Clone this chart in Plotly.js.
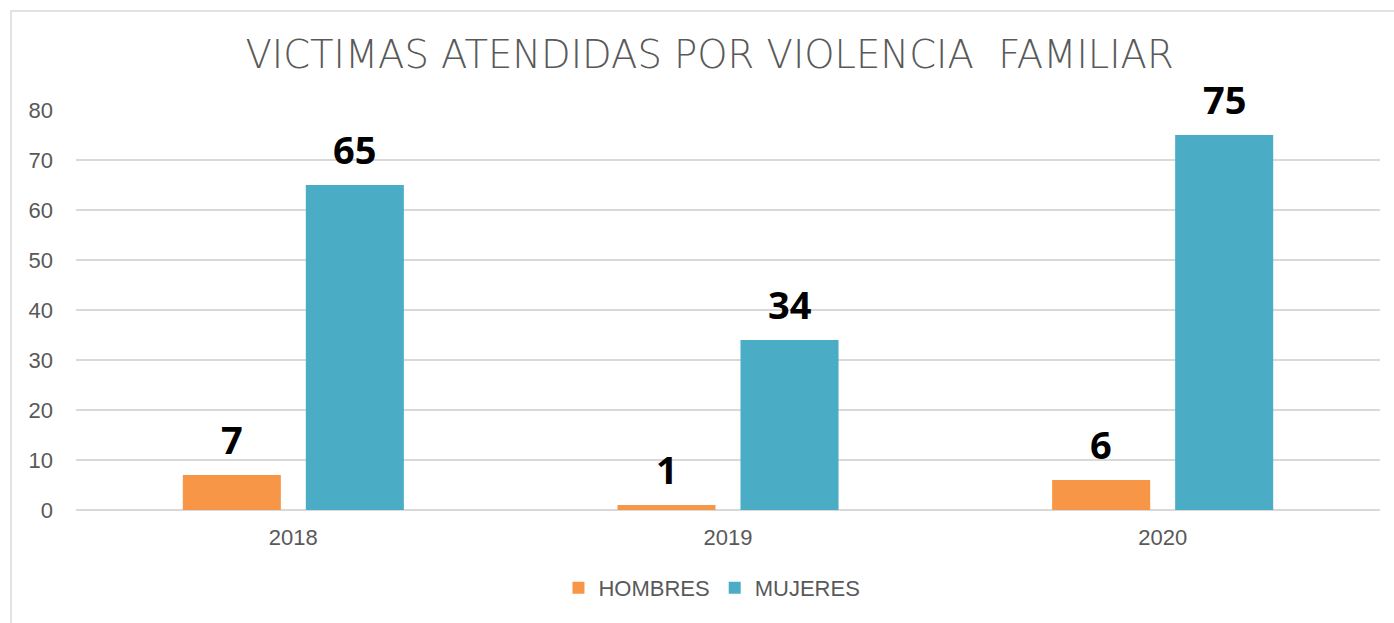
<!DOCTYPE html>
<html>
<head>
<meta charset="utf-8">
<script src="https://cdn.plot.ly/plotly-3.0.1.min.js"></script>
<style>
html,body{margin:0;padding:0;background:#fff;}
#chart{width:1394px;height:623px;}
</style>
</head>
<body>
<div id="chart"></div>
<script>
const years = ["2018", "2019", "2020"];
const hombres = [7, 1, 6];
const mujeres = [65, 34, 75];
const seriesNames = ["HOMBRES", "MUJERES"];
const yTicks = [0, 10, 20, 30, 40, 50, 60, 70, 80];

const ORANGE = "#F79646";
const BLUE = "#4BACC6";
const GRAY = "#595959";
const GRID = "#D9D9D9";

const traces = [
  {type: "bar", name: seriesNames[0], x: years, y: hombres, marker: {color: ORANGE}, hoverinfo: "skip"},
  {type: "bar", name: seriesNames[1], x: years, y: mujeres, marker: {color: BLUE}, hoverinfo: "skip"}
];

const labelFont = {family: "Open Sans, DejaVu Sans, sans-serif", size: 38, color: "#000000", weight: 700};
const annotations = [];
[hombres, mujeres].forEach((vals, si) => {
  vals.forEach((v, i) => {
    annotations.push({
      x: i, y: v, xref: "x", yref: "y",
      text: String(v), showarrow: false,
      xanchor: "center", yanchor: "bottom",
      xshift: si === 0 ? -61.5 : 61.5, yshift: 8,
      font: labelFont
    });
  });
});

const layout = {
  width: 1394, height: 623,
  margin: {l: 76, r: 14, t: 110, b: 113, pad: 0},
  paper_bgcolor: "#ffffff", plot_bgcolor: "#ffffff",
  barmode: "group", bargap: 0.434, bargroupgap: 0.203,
  title: {
    text: "VICTIMAS ATENDIDAS POR VIOLENCIA&nbsp; FAMILIAR",
    font: {family: "DejaVu Sans, sans-serif", size: 38.5, color: GRAY, weight: 200},
    xref: "container", yref: "container", x: 0.509, y: 0.912,
    xanchor: "center", yanchor: "middle"
  },
  xaxis: {
    type: "category", categoryorder: "array", categoryarray: years,
    range: [-0.5, years.length - 0.5], autorange: false,
    showgrid: false, zeroline: false, showline: false,
    ticks: "", ticklabelstandoff: 12,
    tickfont: {family: "Liberation Sans, Arial, sans-serif", size: 22, color: GRAY}
  },
  yaxis: {
    range: [0, 80], autorange: false, tickvals: yTicks, showgrid: true, gridcolor: GRID, gridwidth: 1.5,
    zeroline: true, zerolinecolor: GRID, zerolinewidth: 1.5, showline: false,
    ticks: "", ticklabelstandoff: 22,
    tickfont: {family: "Liberation Sans, Arial, sans-serif", size: 22, color: GRAY}
  },
  legend: {
    orientation: "h", x: 0.4877, y: -0.195, xanchor: "center", yanchor: "middle",
    font: {family: "Liberation Sans, Arial, sans-serif", size: 22, color: GRAY},
    itemwidth: 30, tracegroupgap: 0
  },
  annotations: annotations,
  shapes: [{
    type: "rect", xref: "paper", yref: "paper",
    x0: -0.04985, x1: 1.0153, y0: -0.3, y1: 1.2475,
    line: {color: GRID, width: 1.5}, fillcolor: "rgba(0,0,0,0)", layer: "below"
  }],
  showlegend: true
};

Plotly.newPlot("chart", traces, layout, {displayModeBar: false, staticPlot: true});
</script>
</body>
</html>
